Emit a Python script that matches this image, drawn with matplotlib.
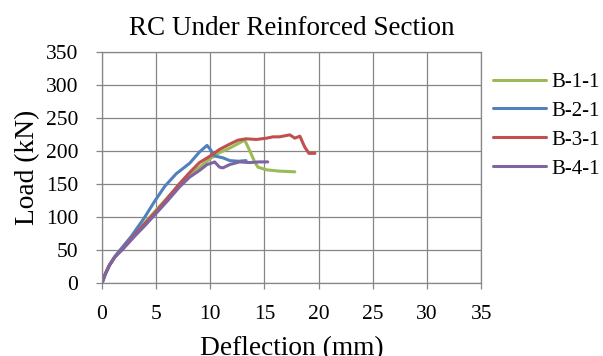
import matplotlib
matplotlib.use("Agg")
import matplotlib.pyplot as plt

plt.rcParams['font.family'] = ['Liberation Serif', 'DejaVu Serif']

# Load-deflection data (deflection in mm, load in kN)
b11_defl = [0, 0.3, 0.7, 1.2, 2, 3, 4, 5, 6, 7, 8.1, 9, 10, 10.86, 11.8, 12.6, 13.18, 13.64, 14.1, 14.4, 15.2, 16.4, 17.8]
b11_load = [0, 14, 28, 40, 55, 75, 93, 111, 129, 147, 165, 176, 189, 198, 205, 212, 217, 201, 184, 176, 172, 170, 169]

b21_defl = [0, 0.3, 0.7, 1.2, 1.8, 2.7, 3.9, 4.85, 5.8, 6.85, 8.1, 9.0, 9.7, 10.0, 10.4, 11.2, 11.8, 12.6, 13.3]
b21_load = [0, 14, 28, 41, 53, 71, 99, 124, 147, 166, 182, 199, 209, 203, 193, 190, 186, 185, 186]

b31_defl = [0, 0.3, 0.7, 1.2, 2, 3, 4, 5, 6, 7.16, 8.1, 9, 10, 10.86, 11.8, 12.56, 13.3, 14.26, 15.2, 15.8, 16.4, 17.34, 17.8, 18.27, 18.7, 19.1, 19.66]
b31_load = [0, 14, 28, 40, 54, 73, 91, 109, 128, 151, 168, 183, 193, 203, 211, 217, 219, 218, 220, 222, 222, 225, 220, 223, 207, 197, 197]

b41_defl = [0, 0.3, 0.7, 1.2, 2, 3, 4, 5, 6, 7.16, 8.1, 9, 9.7, 10.25, 10.4, 10.86, 11.17, 11.8, 12.7, 13.6, 14.5, 15.3]
b41_load = [0, 13, 27, 40, 53, 71, 88, 106, 124, 146, 161, 171, 180, 183, 184, 176, 175, 180, 184, 183, 184, 184]

series = [
    ("B-1-1", b11_defl, b11_load, "#9BBB59"),
    ("B-2-1", b21_defl, b21_load, "#4F81BD"),
    ("B-3-1", b31_defl, b31_load, "#C0504D"),
    ("B-4-1", b41_defl, b41_load, "#8064A2"),
]

x_ticks = [0, 5, 10, 15, 20, 25, 30, 35]
y_ticks = [0, 50, 100, 150, 200, 250, 300, 350]

fig = plt.figure(figsize=(6.03, 3.56), dpi=100)
ax = fig.add_axes([0.169, 0.204, 0.629, 0.649])

grid_color = "#868686"
for name, d, l, c in series:
    ax.plot(d, l, color=c, lw=2.2, label=name, solid_joinstyle="round", solid_capstyle="round")

ax.set_xlim(0, 35)
ax.set_ylim(0, 350)
ax.set_xticks(x_ticks)
ax.set_yticks(y_ticks)
ax.grid(True, color=grid_color, lw=0.9)
ax.set_axisbelow(True)
for sp in ax.spines.values():
    sp.set_color(grid_color)
    sp.set_linewidth(0.9)
ax.tick_params(axis="both", colors=grid_color, labelcolor="black", labelsize=15.5, width=0.9, length=4)
ax.tick_params(axis="x", pad=11.5)
ax.tick_params(axis="y", pad=13)

ax.set_title("RC Under Reinforced Section", fontsize=19.5, pad=12.5)
ax.set_xlabel("Deflection (mm)", fontsize=19.7, labelpad=8.5)
ax.set_ylabel("Load (kN)", fontsize=19.7, labelpad=4)

ax.legend(loc="upper left", bbox_to_anchor=(1.01, 0.95), frameon=False, fontsize=15,
          handlelength=2.55, handletextpad=0.22, labelspacing=0.45, borderaxespad=0)

fig.savefig("out.png", dpi=100)
